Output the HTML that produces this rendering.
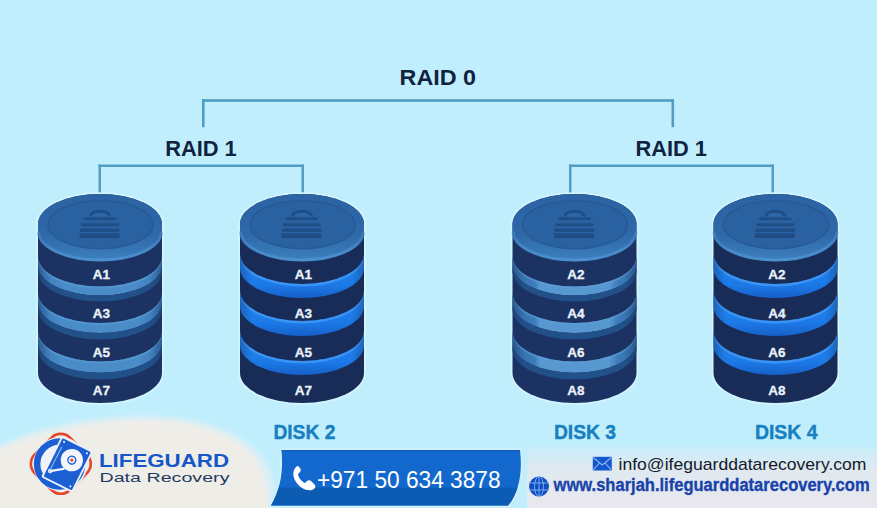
<!DOCTYPE html>
<html><head><meta charset="utf-8"><style>
html,body{margin:0;padding:0;background:#c1eefd;}
body{width:877px;height:508px;overflow:hidden;}
svg{display:block;}
text{font-family:"Liberation Sans",sans-serif;}
.raid{font-weight:bold;font-size:21px;fill:#0f2340;}
.lab{font-weight:bold;font-size:13.5px;fill:#eaf2fb;stroke:#eaf2fb;stroke-width:0.3px;}
.disk{font-weight:bold;font-size:19.8px;fill:#1880c0;stroke:#1880c0;stroke-width:0.4px;}
.phone{font-size:24px;fill:#fff;}
.mail{font-size:17px;fill:#151a2a;}
.web{font-size:17.5px;font-weight:bold;fill:#1843aa;stroke:#1843aa;stroke-width:0.35px;}
.lg{font-size:17.5px;font-weight:bold;fill:#1556c8;}
.dr{font-size:13.2px;fill:#1f3a60;}
</style></head><body>
<svg width="877" height="508" viewBox="0 0 877 508">
<rect width="877" height="508" fill="#c1eefd"/>
<defs>
<linearGradient id="fg" x1="0" y1="0" x2="0" y2="1"><stop offset="0" stop-color="#2b63a3"/><stop offset="0.6" stop-color="#2e68a8"/><stop offset="1" stop-color="#3d80c0"/></linearGradient>
<linearGradient id="rimg" x1="0" y1="0" x2="1" y2="0"><stop offset="0" stop-color="#4a8ccc" stop-opacity="0.5"/><stop offset="0.1" stop-color="#4a8ccc" stop-opacity="0.8"/><stop offset="0.5" stop-color="#4d92d0"/><stop offset="0.9" stop-color="#4a8ccc" stop-opacity="0.8"/><stop offset="1" stop-color="#4a8ccc" stop-opacity="0.5"/></linearGradient>
<linearGradient id="edge" x1="0" y1="0" x2="1" y2="0"><stop offset="0" stop-color="#172b56" stop-opacity="0.35"/><stop offset="0.1" stop-color="#172b56" stop-opacity="0"/><stop offset="0.9" stop-color="#172b56" stop-opacity="0"/><stop offset="1" stop-color="#172b56" stop-opacity="0.35"/></linearGradient>
<linearGradient id="bb" x1="0" y1="0" x2="0" y2="1"><stop offset="0" stop-color="#2388f2"/><stop offset="0.7" stop-color="#1c7ae8"/><stop offset="1" stop-color="#1660c8"/></linearGradient>
<linearGradient id="lb0" x1="0" y1="0" x2="1" y2="0"><stop offset="0" stop-color="#3a78b6"/><stop offset="0.2" stop-color="#4a8cc8"/><stop offset="0.8" stop-color="#4a8cc8"/><stop offset="1" stop-color="#3a78b6"/></linearGradient>
<linearGradient id="lb2" x1="0" y1="0" x2="1" y2="0"><stop offset="0" stop-color="#336eaa"/><stop offset="0.18" stop-color="#3c7cba"/><stop offset="0.22" stop-color="#5898d0"/><stop offset="0.78" stop-color="#5898d0"/><stop offset="0.85" stop-color="#3c7cba"/><stop offset="1" stop-color="#336eaa"/></linearGradient>
<linearGradient id="bg2" x1="0" y1="0" x2="0" y2="1"><stop offset="0" stop-color="#c6eefb"/><stop offset="0.35" stop-color="#dfe9f0"/><stop offset="1" stop-color="#e9e8ee"/></linearGradient>
</defs>
<g fill="#509ec5">
<rect x="202" y="99.2" width="472" height="2.6"/>
<rect x="202" y="99.2" width="2.6" height="28"/>
<rect x="671.5" y="99.2" width="2.6" height="28"/>
<rect x="98.5" y="164.5" width="205" height="2.5"/>
<rect x="98.5" y="164.5" width="2.5" height="31"/>
<rect x="301.5" y="164.5" width="2.5" height="31"/>
<rect x="569" y="164.5" width="205" height="2.5"/>
<rect x="569" y="164.5" width="2.5" height="31"/>
<rect x="771.5" y="164.5" width="2.5" height="31"/>
</g>
<text x="399.6" y="84.7" class="raid" textLength="76.5" lengthAdjust="spacingAndGlyphs" style="font-size:22.4px">RAID 0</text>
<text x="165.2" y="155.5" class="raid" textLength="71.5" lengthAdjust="spacingAndGlyphs" style="font-size:21.6px">RAID 1</text>
<text x="635.4" y="155.7" class="raid" textLength="71.5" lengthAdjust="spacingAndGlyphs" style="font-size:21.6px">RAID 1</text>
<path d="M38,224 A62,30 0 0 1 162,224 L162,373 A62,30 0 0 1 38,373 Z" fill="none" stroke="#d4f5ff" stroke-width="3.5"/>
<path d="M38,224 A62,30 0 0 1 162,224 L162,373 A62,30 0 0 1 38,373 Z" fill="#1b3262"/>
<path d="M38,256.5 A62,30 0 0 0 162,256.5 L162,265.5 A62,30 0 0 1 38,265.5 Z" fill="url(#lb0)" />
<path d="M38,256.5 A62,30 0 0 0 162,256.5 L162,258.5 A62,30 0 0 1 38,258.5 Z" fill="#5a9cd4" opacity="0.6"/>
<path d="M38,265.5 A62,30 0 0 0 162,265.5 L162,271.5 A62,30 0 0 1 38,271.5 Z" fill="#22518a" />
<path d="M38,256.5 A62,30 0 0 0 162,256.5 L162,271.5 A62,30 0 0 1 38,271.5 Z" fill="url(#edge)" />
<path d="M38,293 A62,30 0 0 0 162,293 L162,303 A62,30 0 0 1 38,303 Z" fill="url(#lb0)" />
<path d="M38,293 A62,30 0 0 0 162,293 L162,295 A62,30 0 0 1 38,295 Z" fill="#5a9cd4" opacity="0.6"/>
<path d="M38,303 A62,30 0 0 0 162,303 L162,309.6 A62,30 0 0 1 38,309.6 Z" fill="#22518a" />
<path d="M38,293 A62,30 0 0 0 162,293 L162,309.6 A62,30 0 0 1 38,309.6 Z" fill="url(#edge)" />
<path d="M38,331.5 A62,30 0 0 0 162,331.5 L162,342.7 A62,30 0 0 1 38,342.7 Z" fill="url(#lb0)" />
<path d="M38,331.5 A62,30 0 0 0 162,331.5 L162,333.5 A62,30 0 0 1 38,333.5 Z" fill="#5a9cd4" opacity="0.6"/>
<path d="M38,342.7 A62,30 0 0 0 162,342.7 L162,349.5 A62,30 0 0 1 38,349.5 Z" fill="#22518a" />
<path d="M38,331.5 A62,30 0 0 0 162,331.5 L162,349.5 A62,30 0 0 1 38,349.5 Z" fill="url(#edge)" />
<path d="M38,224 A62,30 0 0 1 162,224 L162,233 A62,28 0 0 1 38,233 Z" fill="url(#fg)"/>
<path d="M38.5,231.5 A61.5,28.5 0 0 0 161.5,231.5" fill="none" stroke="url(#rimg)" stroke-width="3"/>
<ellipse cx="100.5" cy="224.7" rx="52.5" ry="24" fill="#2a61a0" stroke="#275a96" stroke-width="1.5"/>
<path d="M90.5,216.5 C91,209.5 109,209.5 109.5,216.5" fill="#2d66a6" stroke="#1f4d86" stroke-width="3"/>
<rect x="84" y="217.5" width="32" height="2.6" fill="#1f4d86"/>
<rect x="81" y="223.3" width="38" height="2.8" fill="#1f4d86"/>
<rect x="80" y="228.6" width="39.5" height="3.2" fill="#1f4d86"/>
<rect x="79.5" y="233.3" width="40.0" height="4.6" fill="#1f4d86"/>
<text x="101.5" y="278.9" text-anchor="middle" class="lab">A1</text>
<text x="101.5" y="317.59999999999997" text-anchor="middle" class="lab">A3</text>
<text x="101.5" y="356.9" text-anchor="middle" class="lab">A5</text>
<text x="101.5" y="394.9" text-anchor="middle" class="lab">A7</text>
<path d="M240,224 A62,30 0 0 1 364,224 L364,373 A62,30 0 0 1 240,373 Z" fill="none" stroke="#d4f5ff" stroke-width="3.5"/>
<path d="M240,224 A62,30 0 0 1 364,224 L364,373 A62,30 0 0 1 240,373 Z" fill="#182c57"/>
<path d="M240,254 A62,30 0 0 0 364,254 L364,268 A62,30 0 0 1 240,268 Z" fill="url(#bb)" />
<path d="M240,254 A62,30 0 0 0 364,254 L364,256.5 A62,30 0 0 1 240,256.5 Z" fill="#3b94f2" />
<path d="M240,254 A62,30 0 0 0 364,254 L364,268 A62,30 0 0 1 240,268 Z" fill="url(#edge)" />
<path d="M240,291 A62,30 0 0 0 364,291 L364,306 A62,30 0 0 1 240,306 Z" fill="url(#bb)" />
<path d="M240,291 A62,30 0 0 0 364,291 L364,293.5 A62,30 0 0 1 240,293.5 Z" fill="#3b94f2" />
<path d="M240,291 A62,30 0 0 0 364,291 L364,306 A62,30 0 0 1 240,306 Z" fill="url(#edge)" />
<path d="M240,331 A62,30 0 0 0 364,331 L364,345 A62,30 0 0 1 240,345 Z" fill="url(#bb)" />
<path d="M240,331 A62,30 0 0 0 364,331 L364,333.5 A62,30 0 0 1 240,333.5 Z" fill="#3b94f2" />
<path d="M240,331 A62,30 0 0 0 364,331 L364,345 A62,30 0 0 1 240,345 Z" fill="url(#edge)" />
<path d="M240,224 A62,30 0 0 1 364,224 L364,233 A62,28 0 0 1 240,233 Z" fill="url(#fg)"/>
<path d="M240.5,231.5 A61.5,28.5 0 0 0 363.5,231.5" fill="none" stroke="url(#rimg)" stroke-width="3"/>
<ellipse cx="302.5" cy="224.7" rx="52.5" ry="24" fill="#2a61a0" stroke="#275a96" stroke-width="1.5"/>
<path d="M292.5,216.5 C293,209.5 311,209.5 311.5,216.5" fill="#2d66a6" stroke="#1f4d86" stroke-width="3"/>
<rect x="286" y="217.5" width="32" height="2.6" fill="#1f4d86"/>
<rect x="283" y="223.3" width="38" height="2.8" fill="#1f4d86"/>
<rect x="282" y="228.6" width="39.5" height="3.2" fill="#1f4d86"/>
<rect x="281.5" y="233.3" width="40.0" height="4.6" fill="#1f4d86"/>
<text x="303.5" y="278.9" text-anchor="middle" class="lab">A1</text>
<text x="303.5" y="317.59999999999997" text-anchor="middle" class="lab">A3</text>
<text x="303.5" y="356.9" text-anchor="middle" class="lab">A5</text>
<text x="303.5" y="394.9" text-anchor="middle" class="lab">A7</text>
<path d="M512.5,224 A62,30 0 0 1 636.5,224 L636.5,373 A62,30 0 0 1 512.5,373 Z" fill="none" stroke="#d4f5ff" stroke-width="3.5"/>
<path d="M512.5,224 A62,30 0 0 1 636.5,224 L636.5,373 A62,30 0 0 1 512.5,373 Z" fill="#1b3262"/>
<path d="M512.5,256.5 A62,30 0 0 0 636.5,256.5 L636.5,265.5 A62,30 0 0 1 512.5,265.5 Z" fill="url(#lb2)" />
<path d="M512.5,256.5 A62,30 0 0 0 636.5,256.5 L636.5,258.5 A62,30 0 0 1 512.5,258.5 Z" fill="#5a9cd4" opacity="0.6"/>
<path d="M512.5,265.5 A62,30 0 0 0 636.5,265.5 L636.5,271.5 A62,30 0 0 1 512.5,271.5 Z" fill="#22518a" />
<path d="M512.5,256.5 A62,30 0 0 0 636.5,256.5 L636.5,271.5 A62,30 0 0 1 512.5,271.5 Z" fill="url(#edge)" />
<path d="M512.5,293 A62,30 0 0 0 636.5,293 L636.5,303 A62,30 0 0 1 512.5,303 Z" fill="url(#lb2)" />
<path d="M512.5,293 A62,30 0 0 0 636.5,293 L636.5,295 A62,30 0 0 1 512.5,295 Z" fill="#5a9cd4" opacity="0.6"/>
<path d="M512.5,303 A62,30 0 0 0 636.5,303 L636.5,309.6 A62,30 0 0 1 512.5,309.6 Z" fill="#22518a" />
<path d="M512.5,293 A62,30 0 0 0 636.5,293 L636.5,309.6 A62,30 0 0 1 512.5,309.6 Z" fill="url(#edge)" />
<path d="M512.5,331.5 A62,30 0 0 0 636.5,331.5 L636.5,342.7 A62,30 0 0 1 512.5,342.7 Z" fill="url(#lb2)" />
<path d="M512.5,331.5 A62,30 0 0 0 636.5,331.5 L636.5,333.5 A62,30 0 0 1 512.5,333.5 Z" fill="#5a9cd4" opacity="0.6"/>
<path d="M512.5,342.7 A62,30 0 0 0 636.5,342.7 L636.5,349.5 A62,30 0 0 1 512.5,349.5 Z" fill="#22518a" />
<path d="M512.5,331.5 A62,30 0 0 0 636.5,331.5 L636.5,349.5 A62,30 0 0 1 512.5,349.5 Z" fill="url(#edge)" />
<path d="M512.5,224 A62,30 0 0 1 636.5,224 L636.5,233 A62,28 0 0 1 512.5,233 Z" fill="url(#fg)"/>
<path d="M513.0,231.5 A61.5,28.5 0 0 0 636.0,231.5" fill="none" stroke="url(#rimg)" stroke-width="3"/>
<ellipse cx="575.0" cy="224.7" rx="52.5" ry="24" fill="#2a61a0" stroke="#275a96" stroke-width="1.5"/>
<path d="M565.0,216.5 C565.5,209.5 583.5,209.5 584.0,216.5" fill="#2d66a6" stroke="#1f4d86" stroke-width="3"/>
<rect x="558.5" y="217.5" width="32" height="2.6" fill="#1f4d86"/>
<rect x="555.5" y="223.3" width="38" height="2.8" fill="#1f4d86"/>
<rect x="554.5" y="228.6" width="39.5" height="3.2" fill="#1f4d86"/>
<rect x="554.0" y="233.3" width="40.0" height="4.6" fill="#1f4d86"/>
<text x="576.0" y="278.9" text-anchor="middle" class="lab">A2</text>
<text x="576.0" y="317.59999999999997" text-anchor="middle" class="lab">A4</text>
<text x="576.0" y="356.9" text-anchor="middle" class="lab">A6</text>
<text x="576.0" y="394.9" text-anchor="middle" class="lab">A8</text>
<path d="M713.5,224 A62,30 0 0 1 837.5,224 L837.5,373 A62,30 0 0 1 713.5,373 Z" fill="none" stroke="#d4f5ff" stroke-width="3.5"/>
<path d="M713.5,224 A62,30 0 0 1 837.5,224 L837.5,373 A62,30 0 0 1 713.5,373 Z" fill="#182c57"/>
<path d="M713.5,254 A62,30 0 0 0 837.5,254 L837.5,268 A62,30 0 0 1 713.5,268 Z" fill="url(#bb)" />
<path d="M713.5,254 A62,30 0 0 0 837.5,254 L837.5,256.5 A62,30 0 0 1 713.5,256.5 Z" fill="#3b94f2" />
<path d="M713.5,254 A62,30 0 0 0 837.5,254 L837.5,268 A62,30 0 0 1 713.5,268 Z" fill="url(#edge)" />
<path d="M713.5,291 A62,30 0 0 0 837.5,291 L837.5,306 A62,30 0 0 1 713.5,306 Z" fill="url(#bb)" />
<path d="M713.5,291 A62,30 0 0 0 837.5,291 L837.5,293.5 A62,30 0 0 1 713.5,293.5 Z" fill="#3b94f2" />
<path d="M713.5,291 A62,30 0 0 0 837.5,291 L837.5,306 A62,30 0 0 1 713.5,306 Z" fill="url(#edge)" />
<path d="M713.5,331 A62,30 0 0 0 837.5,331 L837.5,345 A62,30 0 0 1 713.5,345 Z" fill="url(#bb)" />
<path d="M713.5,331 A62,30 0 0 0 837.5,331 L837.5,333.5 A62,30 0 0 1 713.5,333.5 Z" fill="#3b94f2" />
<path d="M713.5,331 A62,30 0 0 0 837.5,331 L837.5,345 A62,30 0 0 1 713.5,345 Z" fill="url(#edge)" />
<path d="M713.5,224 A62,30 0 0 1 837.5,224 L837.5,233 A62,28 0 0 1 713.5,233 Z" fill="url(#fg)"/>
<path d="M714.0,231.5 A61.5,28.5 0 0 0 837.0,231.5" fill="none" stroke="url(#rimg)" stroke-width="3"/>
<ellipse cx="776.0" cy="224.7" rx="52.5" ry="24" fill="#2a61a0" stroke="#275a96" stroke-width="1.5"/>
<path d="M766.0,216.5 C766.5,209.5 784.5,209.5 785.0,216.5" fill="#2d66a6" stroke="#1f4d86" stroke-width="3"/>
<rect x="759.5" y="217.5" width="32" height="2.6" fill="#1f4d86"/>
<rect x="756.5" y="223.3" width="38" height="2.8" fill="#1f4d86"/>
<rect x="755.5" y="228.6" width="39.5" height="3.2" fill="#1f4d86"/>
<rect x="755.0" y="233.3" width="40.0" height="4.6" fill="#1f4d86"/>
<text x="777.0" y="278.9" text-anchor="middle" class="lab">A2</text>
<text x="777.0" y="317.59999999999997" text-anchor="middle" class="lab">A4</text>
<text x="777.0" y="356.9" text-anchor="middle" class="lab">A6</text>
<text x="777.0" y="394.9" text-anchor="middle" class="lab">A8</text>
<text x="273.4" y="438.8" class="disk" textLength="62" lengthAdjust="spacingAndGlyphs">DISK 2</text>
<text x="553.9" y="438.8" class="disk" textLength="62.2" lengthAdjust="spacingAndGlyphs">DISK 3</text>
<text x="754.9" y="438.8" class="disk" textLength="62.6" lengthAdjust="spacingAndGlyphs">DISK 4</text>
<rect x="527" y="446" width="350" height="62" fill="url(#bg2)"/>
<filter id="bl" x="-0.1" y="-0.2" width="1.2" height="1.4"><feGaussianBlur stdDeviation="2"/></filter>
<path d="M-10,451 C30,427 95,415 150,416 C207,417 251,436 266,462 C276,480 276,498 275,512 L-10,512 Z" fill="#d9eff6" filter="url(#bl)"/>
<path d="M-10,455 C30,431 95,419 150,420 C205,421 246,439 259,464 C268,481 268,498 267,512 L-10,512 Z" fill="#efede8" filter="url(#bl)"/>
<clipPath id="pbc"><path d="M281.5,450 L520,450 C522.5,470 520,492 508,505.6 L271,505.6 C282,486 283,468 281.5,450 Z"/></clipPath>
<path d="M281.5,450 L520,450 C522.5,470 520,492 508,505.6 L271,505.6 C282,486 283,468 281.5,450 Z" fill="none" stroke="#d4f1fb" stroke-width="3"/>
<g clip-path="url(#pbc)"><rect x="260" y="450" width="270" height="60" fill="#1268cd"/><rect x="260" y="450" width="270" height="1.5" fill="#0f5ec0"/><rect x="260" y="487.6" width="270" height="20" fill="#0d5cb4"/></g>
<text x="317" y="487.6" class="phone" textLength="183.5" lengthAdjust="spacingAndGlyphs">+971 50 634 3878</text>
<path d="M296,467 C293,470 292,476 296,482 C300,488 306,491 312,490 C315,489 316,487 315,485 L311,481 C310,480 308,480 307,481 L305,483 C302,482 298,477 298,474 L300,472 C301,471 301,469 300,468 L298,466 C297,466 297,466 296,467 Z" fill="#fff"/>
<rect x="592.8" y="456.8" width="19" height="13.7" fill="#1456cc"/>
<path d="M593.3,457.5 L602.3,465 L611.3,457.5 M593.3,469.8 L599.5,463 M611.3,469.8 L605.1,463" fill="none" stroke="#8fb6f4" stroke-width="1.1"/>
<text x="618.5" y="469.7" class="mail" textLength="248" lengthAdjust="spacingAndGlyphs">info@ifeguarddatarecovery.com</text>
<circle cx="539" cy="486.5" r="10" fill="#0f4fc2"/>
<g fill="none" stroke="#86b4f6" stroke-width="0.9"><ellipse cx="539" cy="486.5" rx="4.5" ry="10"/><line x1="539" y1="476.5" x2="539" y2="496.5"/><line x1="529.5" y1="483" x2="548.5" y2="483"/><line x1="529.5" y1="490" x2="548.5" y2="490"/></g>
<text x="553.6" y="491.2" class="web" textLength="316" lengthAdjust="spacingAndGlyphs">www.sharjah.lifeguarddatarecovery.com</text>
<text x="99" y="467.2" class="lg" textLength="130" lengthAdjust="spacingAndGlyphs">LIFEGUARD</text>
<text x="99.5" y="481.9" class="dr" textLength="130" lengthAdjust="spacingAndGlyphs">Data Recovery</text>
<g>
<rect x="35.8" y="438.8" width="50" height="50" rx="13" transform="rotate(45 60.8 463.8)" fill="none" stroke="#e2482c" stroke-width="2.6"/>
<circle cx="60.3" cy="464" r="27" fill="#eef1f6"/>
<circle cx="59.6" cy="464" r="22.5" fill="none" stroke="#1b5fd2" stroke-width="6.5"/>
<g transform="rotate(26.6 67.2 464.2)">
<rect x="49.6" y="441" width="35.2" height="46.4" rx="2" fill="#eef1f6"/>
<rect x="51.4" y="442.8" width="31.6" height="42.8" rx="1.5" fill="#1b5fd2"/>
<circle cx="69.5" cy="458.5" r="11.2" fill="#f2f5fa"/>
<circle cx="69.5" cy="458.5" r="4.6" fill="#1b5fd2"/><circle cx="69.5" cy="458.5" r="3.2" fill="#f2f5fa"/><circle cx="69.5" cy="458.5" r="1.6" fill="#e2482c"/>
<path d="M55,478 L66,470" stroke="#f2f5fa" stroke-width="2.4" stroke-linecap="round"/>
<circle cx="55" cy="478" r="2.2" fill="#f2f5fa"/>
<path d="M54.5,451 L54.5,480" stroke="#9cc0f0" stroke-width="1"/>
<circle cx="54.4" cy="445.6" r="1" fill="#f2f5fa"/><circle cx="80" cy="445.6" r="1" fill="#f2f5fa"/><circle cx="80" cy="482.6" r="1" fill="#f2f5fa"/>
</g>
</g>
</svg>
</body></html>
